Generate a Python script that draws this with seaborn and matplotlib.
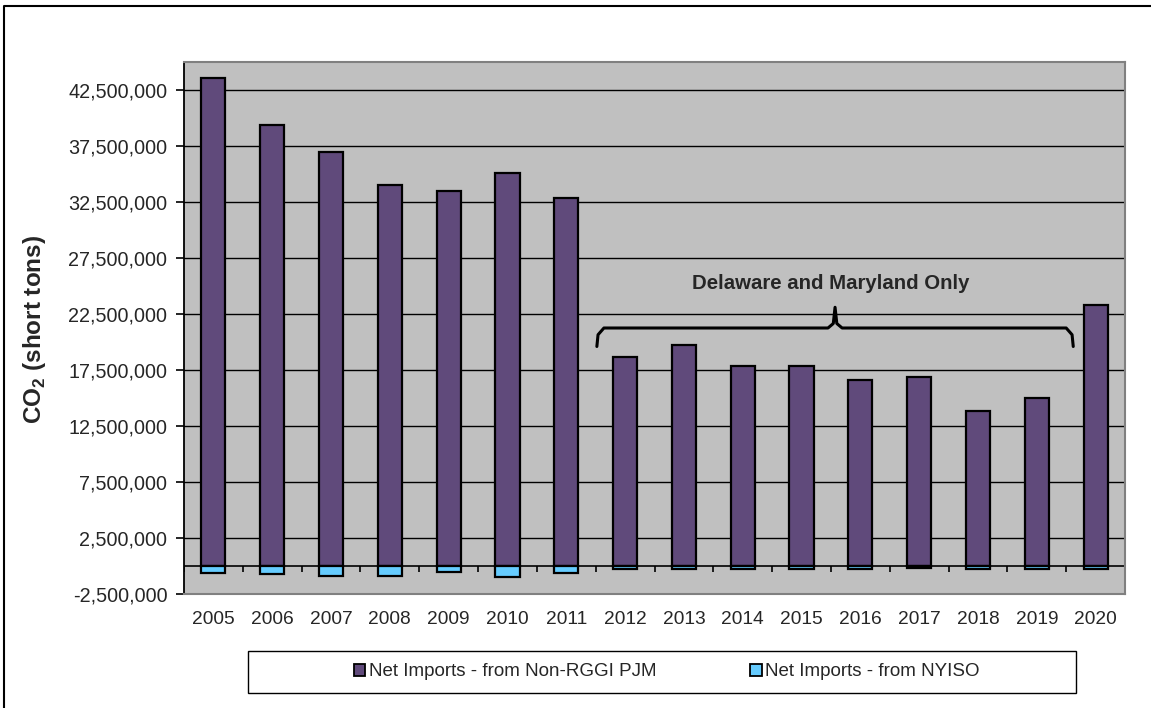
import numpy as np
import pandas as pd
import matplotlib
matplotlib.use("Agg")
import matplotlib.pyplot as plt
import seaborn as sns
from matplotlib.lines import Line2D
from matplotlib.patches import Rectangle, Patch

years = [str(y) for y in range(2005, 2021)]
pjm = [43.6e6, 39.4e6, 37.0e6, 34.0e6, 33.5e6, 35.1e6, 32.9e6, 18.65e6,
       19.7e6, 17.85e6, 17.85e6, 16.6e6, 16.9e6, 13.8e6, 15.0e6, 23.3e6]
nyiso = [-0.65e6, -0.75e6, -0.85e6, -0.85e6, -0.55e6, -0.95e6, -0.65e6, -0.25e6,
         -0.25e6, -0.25e6, -0.25e6, -0.25e6, -0.15e6, -0.25e6, -0.25e6, -0.25e6]
series_names = ["Net Imports - from Non-RGGI PJM", "Net Imports - from NYISO"]
ytick_vals = np.arange(-2.5e6, 42.6e6, 5e6)

sns.set_theme(style="white")
plt.rcParams['font.family'] = ['Liberation Sans', 'DejaVu Sans']
plt.rcParams['mathtext.fontset'] = 'custom'
plt.rcParams['mathtext.rm'] = 'Liberation Sans'
plt.rcParams['mathtext.bf'] = 'Liberation Sans:bold'

purple = "#604A7B"
blue = "#66CCFF"

df = pd.DataFrame({"year": years, "pjm": pjm, "nyiso": nyiso})

fig = plt.figure(figsize=(11.51, 7.08), dpi=100)
fig.patch.set_facecolor("white")
ax = fig.add_axes([184/1151, 114/708, 941/1151, 532/708])
ax.set_facecolor("#C0C0C0")

for v in ytick_vals:
    ax.axhline(v, color="black", lw=1.0, zorder=0)

sns.barplot(data=df, x="year", y="pjm", color=purple, width=0.41,
            edgecolor="black", linewidth=1.6, saturation=1, ax=ax, zorder=3)
sns.barplot(data=df, x="year", y="nyiso", color=blue, width=0.41,
            edgecolor="black", linewidth=1.6, saturation=1, ax=ax, zorder=3)

ax.axhline(0, color="black", lw=1.2, zorder=2)
ax.vlines(np.arange(-0.5, 16.0, 1.0), -0.55e6, 0, color="black", lw=1.2, zorder=2)

ax.set_xlim(-0.5, 15.5)
ax.set_ylim(-2.5e6, 45e6)
ax.set_yticks(ytick_vals)
ax.set_yticklabels([f"{v:,.0f}" for v in ytick_vals], fontsize=14.2)
ax.tick_params(axis="y", left=True, length=6, width=1.2, color="black", pad=6)
ax.tick_params(axis="x", bottom=False, length=0, pad=12, labelsize=13.8)
ax.set_xlabel("")
ax.set_ylabel("")

for side in ["top", "right", "bottom"]:
    ax.spines[side].set_color("#808080")
    ax.spines[side].set_linewidth(1.5)
ax.spines["left"].set_color("black")
ax.spines["left"].set_linewidth(1.3)

fig.text(35/1151, 1 - 330/708, r"CO$_\mathbf{2}$ (short tons)", rotation=90,
         ha="center", va="center", fontsize=17.5, fontweight="bold")

# annotation brace
bx0, bx1, bxm = 6.52, 14.62, 10.57
yh, ytip, yend = 21.25e6, 23.1e6, 19.6e6
r = 0.12
brace_x = [bx0, bx0 + 0.02, bx0 + r, bxm - r, bxm - 0.03, bxm, bxm + 0.03, bxm + r, bx1 - r, bx1 - 0.02, bx1]
brace_y = [yend, yh - 0.6e6, yh, yh, yh + 0.4e6, ytip, yh + 0.4e6, yh, yh, yh - 0.6e6, yend]
ax.plot(brace_x, brace_y, color="black", lw=2.2, zorder=4, solid_joinstyle="round")
ax.text(bxm - 0.07, 25.2e6, "Delaware and Maryland Only", ha="center", va="center",
        fontsize=14.7, fontweight="bold", zorder=4)

# legend
fig.add_artist(Rectangle((248/1151, 1 - 693/708), (1076-248)/1151, 42/708,
                         transform=fig.transFigure, facecolor="white",
                         edgecolor="black", lw=1.0))
handles = [Patch(facecolor=purple, edgecolor="black", lw=1.3),
           Patch(facecolor=blue, edgecolor="black", lw=1.3)]
fig.legend(handles, series_names, loc="center", ncol=2,
           bbox_to_anchor=(667/1151, 1 - 672/708), frameon=False,
           fontsize=13.5, handlelength=0.6, handleheight=0.6,
           handletextpad=0.2, columnspacing=5.0)

# chart outer border (top and left visible)
fig.add_artist(Line2D([4/1151, 4/1151, 1.0], [0.0, 1 - 6/708, 1 - 6/708],
                      transform=fig.transFigure, color="black", lw=1.5))

fig.savefig("out.png", dpi=100)
